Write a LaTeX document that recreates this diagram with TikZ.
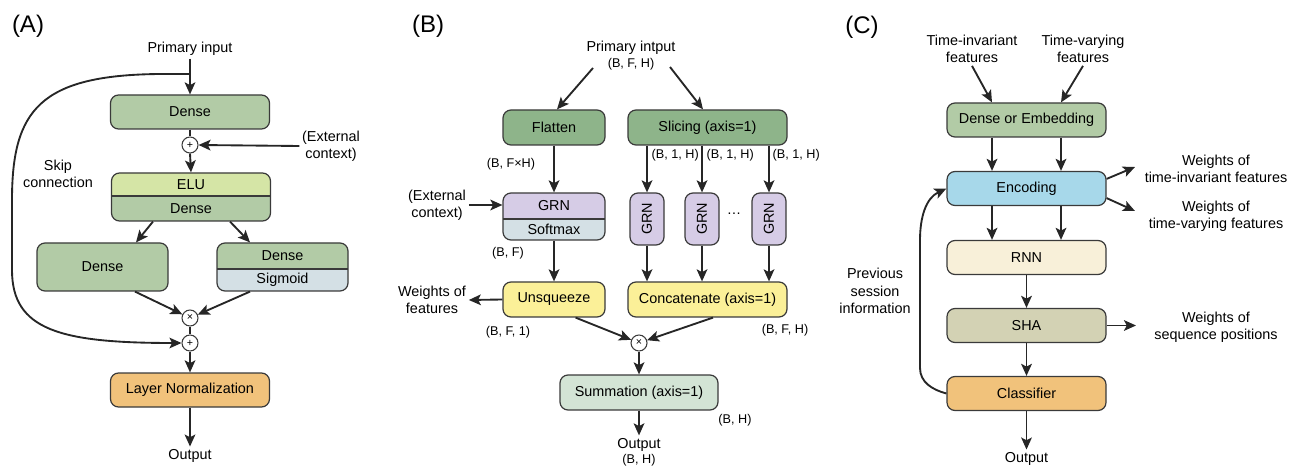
\documentclass[tikz,border=0pt]{standalone}
\usepackage{fontspec}
\setmainfont{Liberation Sans}
\usetikzlibrary{arrows.meta,calc}

\definecolor{densegreen}{HTML}{B2CBA6}
\definecolor{elugreen}{HTML}{D5E5A6}
\definecolor{sigblue}{HTML}{D4E0E5}
\definecolor{normorange}{HTML}{F1C27B}
\definecolor{darkgreen}{HTML}{8EB48A}
\definecolor{grnpurple}{HTML}{D6CCE6}
\definecolor{opyellow}{HTML}{FBF098}
\definecolor{sumgreen}{HTML}{D3E4D5}
\definecolor{encblue}{HTML}{A7D8EA}
\definecolor{rnncream}{HTML}{F8F0D9}
\definecolor{shaolive}{HTML}{D3D2B4}
\definecolor{edge}{HTML}{3A3A3A}

\tikzset{
  box/.style={draw=edge, line width=0.9pt, rounded corners=6pt, minimum width=119.25pt,
    minimum height=25.5pt, inner sep=0pt, font=\fontsize{10.8}{13}\selectfont},
  lower/.style 2 args={path picture={
      \fill[#1, sharp corners] ([yshift=#2]path picture bounding box.south west)
        rectangle (path picture bounding box.south east);
      \draw[edge, line width=0.9pt, sharp corners] ([yshift=#2]path picture bounding box.south west)
        -- ([yshift=#2]path picture bounding box.south east);}},
  op/.style={draw=edge, line width=0.8pt, circle, fill=white, inner sep=0pt,
    minimum size=12pt, font=\fontsize{8}{8}\selectfont},
  arr/.style={-{Stealth[length=9pt,width=8pt,inset=2pt]}, line width=1.4pt, draw=black!85},
  wire/.style={line width=1.4pt, draw=black!85},
  txt/.style={font=\fontsize{10.8}{13}\selectfont, align=center, inner sep=2pt},
  dims/.style={font=\fontsize{9.5}{11}\selectfont, inner sep=1pt},
  panel/.style={font=\fontsize{18}{20}\selectfont},
}

\begin{document}
\begin{tikzpicture}[x=0.75pt,y=-0.75pt]
	\useasboundingbox (0,0) rectangle (1302,466);

	% (A) gated residual network
	\node[panel] (la) at (28,26) {(A)};
	\node[txt] (inA) at (190,49) {Primary input};
	\node[box, fill=densegreen] (d1) at (190,112) {Dense};
	\node[op] (p1) at (190,145) {+};
	\node[txt] (extA) at (331,146) {(External\\context)};
	\node[box, minimum height=36pt, fill=elugreen, lower={densegreen}{18.75pt}] (elu) at (191,197) {};
	\node[txt] at (191,184.5) {ELU};
	\node[txt] at (191,208.5) {Dense};
	\node[txt] (skip) at (58,174) {Skip\\connection};
	\node[box, minimum width=98.25pt, minimum height=36pt, fill=densegreen] (dl) at (102.5,267) {Dense};
	\node[box, minimum width=98.25pt, minimum height=36pt, fill=densegreen, lower={sigblue}{16.5pt}] (dr) at (282.5,267) {};
	\node[txt] at (282.5,256) {Dense};
	\node[txt] at (282.5,280) {Sigmoid};
	\node[op] (tA) at (190,318) {×};
	\node[op] (p2) at (190,343) {+};
	\node[box, fill=normorange] (ln) at (190,390) {Layer Normalization};
	\node[txt] (outA) at (190,456) {Output};
	\coordinate (sk) at (190,74);

	\draw[arr] (inA.south) -- (d1.north);
	\draw[wire] (d1.south) -- (p1.north);
	\draw[arr] (extA.west) -- (p1.east);
	\draw[arr] (p1.south) -- (elu.north);
	\draw[arr] ($(elu.south)+(-38,0)$) -- ($(dl.north)+(33.5,0)$);
	\draw[arr] ($(elu.south)+(39,0)$) -- ($(dr.north)+(-32.5,0)$);
	\draw[arr] ($(dl.south)+(32.5,0)$) -- (tA);
	\draw[arr] ($(dr.south)+(-32.5,0)$) -- (tA);
	\draw[wire] (tA.south) -- (p2.north);
	\draw[arr] (sk) -- (160,74) .. controls (40,75) and (12,110) .. (12,200)
		-- (12,270) .. controls (12,330) and (60,343) .. (p2.west);
	\draw[arr] (p2.south) -- (ln.north);
	\draw[arr] (ln.south) -- (outA.north);

	% (B) variable selection network
	\node[panel] (lb) at (428,26) {(B)};
	\node[txt] (inB) at (631,56) {Primary intput\\[-1pt]{\fontsize{9.5}{11}\selectfont (B, F, H)}};
	\node[box, minimum width=76.5pt, minimum height=26.25pt, fill=darkgreen] (flat) at (554,127.5) {Flatten};
	\node[box, minimum height=26.25pt, fill=darkgreen] (slice) at (707.5,127.5) {Slicing (axis=1)};
	\node[dims] at (511,164) {(B, F×H)};
	\node[box, minimum width=76.5pt, minimum height=35.25pt, fill=grnpurple, lower={sigblue}{15.75pt}] (grn) at (554,216.5) {};
	\node[txt] at (554,206) {GRN};
	\node[txt] at (554,229.5) {Softmax};
	\node[txt] (extB) at (437,205) {(External\\context)};
	\node[box, minimum width=25.5pt, minimum height=39pt, fill=grnpurple] (g1) at (647,219) {\rotatebox{90}{GRN}};
	\node[box, minimum width=25.5pt, minimum height=39pt, fill=grnpurple] (g2) at (702,219) {\rotatebox{90}{GRN}};
	\node[box, minimum width=25.5pt, minimum height=39pt, fill=grnpurple] (g3) at (769,219) {\rotatebox{90}{GRN}};
	\node[txt] (dots) at (734,214) {\ldots};
	\node[dims, anchor=west] at (650,155) {(B, 1, H)};
	\node[dims, anchor=west] at (705,155) {(B, 1, H)};
	\node[dims, anchor=west] at (771,155) {(B, 1, H)};
	\node[box, minimum width=76.5pt, minimum height=26.25pt, fill=opyellow] (unsq) at (554,299.5) {Unsqueeze};
	\node[box, minimum height=26.25pt, fill=opyellow] (concat) at (707.5,299.5) {Concatenate (axis=1)};
	\node[dims] at (508,253) {(B, F)};
	\node[txt] (wf) at (432,300) {Weights of\\features};
	\node[dims] at (508,332) {(B, F, 1)};
	\node[dims] at (785,330) {(B, F, H)};
	\node[op] (tB) at (639,343) {×};
	\node[box, minimum width=118.5pt, minimum height=26.25pt, fill=sumgreen] (sum) at (639,392.5) {Summation (axis=1)};
	\node[dims] at (735,420) {(B, H)};
	\node[txt] (outB) at (639,452) {Output\\[-2pt]{\fontsize{9.5}{11}\selectfont (B, H)}};
	\coordinate (bl) at (593,68);
	\coordinate (br) at (670,67);

	\draw[arr] (bl) -- ($(flat.north)+(3,0)$);
	\draw[arr] (br) -- ($(slice.north)+(-4.5,0)$);
	\draw[arr] (flat.south) -- (grn.north);
	\draw[arr] (extB.east) -- (extB.east -| grn.west);
	\foreach \g in {g1,g2,g3} {
		\draw[arr] (slice.south -| \g.north) -- (\g.north);
		\draw[arr] (\g.south) -- (\g.south |- concat.north);
	}
	\draw[arr] (grn.south) -- (unsq.north);
	\draw[arr] (unsq.west) -- (wf.east);
	\draw[arr] ($(unsq.south east)+(-30,0)$) -- (tB);
	\draw[arr] ($(concat.south)+(5.5,0)$) -- (tB);
	\draw[arr] (tB.south) -- (sum.north);
	\draw[arr] (sum.south) -- (outB.north);

	% (C) session model
	\node[panel] (lc) at (862,27) {(C)};
	\node[txt] (tinv) at (972,49) {Time-invariant\\features};
	\node[txt] (tvar) at (1083,49) {Time-varying\\features};
	\node[box, fill=densegreen] (de) at (1026.5,120) {Dense or Embedding};
	\node[box, fill=encblue] (enc) at (1026.5,188.5) {Encoding};
	\node[box, fill=rnncream] (rnn) at (1026.5,257.5) {RNN};
	\node[box, fill=shaolive] (sha) at (1026.5,325.5) {SHA};
	\node[box, fill=normorange] (cls) at (1026.5,393.5) {Classifier};
	\node[txt] (outC) at (1026.5,459) {Output};
	\node[txt] (w1) at (1216,169) {Weights of\\time-invariant features};
	\node[txt] (w2) at (1216,216) {Weights of\\time-varying features};
	\node[txt] (w3) at (1216,327) {Weights of\\sequence positions};
	\node[txt] (prev) at (875,291) {Previous\\session\\information};
	\coordinate (wt1) at (1135,167);
	\coordinate (wt2) at (1135,211);
	\coordinate (wt3) at (1136,325.5);

	\draw[arr] (tinv.south) -- ($(de.north)+(-34.5,0)$);
	\draw[arr] (tvar.south) -- ($(de.north)+(34.5,0)$);
	\foreach \dx in {-34.5,34.5} {
		\draw[arr] ($(de.south)+(\dx,0)$) -- ($(enc.north)+(\dx,0)$);
		\draw[arr] ($(enc.south)+(\dx,0)$) -- ($(rnn.north)+(\dx,0)$);
	}
	\draw[arr] (rnn.south) -- (sha.north);
	\draw[arr] (sha.south) -- (cls.north);
	\draw[arr] (cls.south) -- (outC.north);
	\draw[arr] ($(enc.north east)+(0,8)$) -- (wt1);
	\draw[arr] ($(enc.south east)+(0,-8)$) -- (wt2);
	\draw[arr] (sha.east) -- (wt3);
	\draw[arr] (cls.west) to[out=165,in=-90] (920,368) -- (920,240) to[out=90,in=205] (enc.west);

\end{tikzpicture}
\end{document}
